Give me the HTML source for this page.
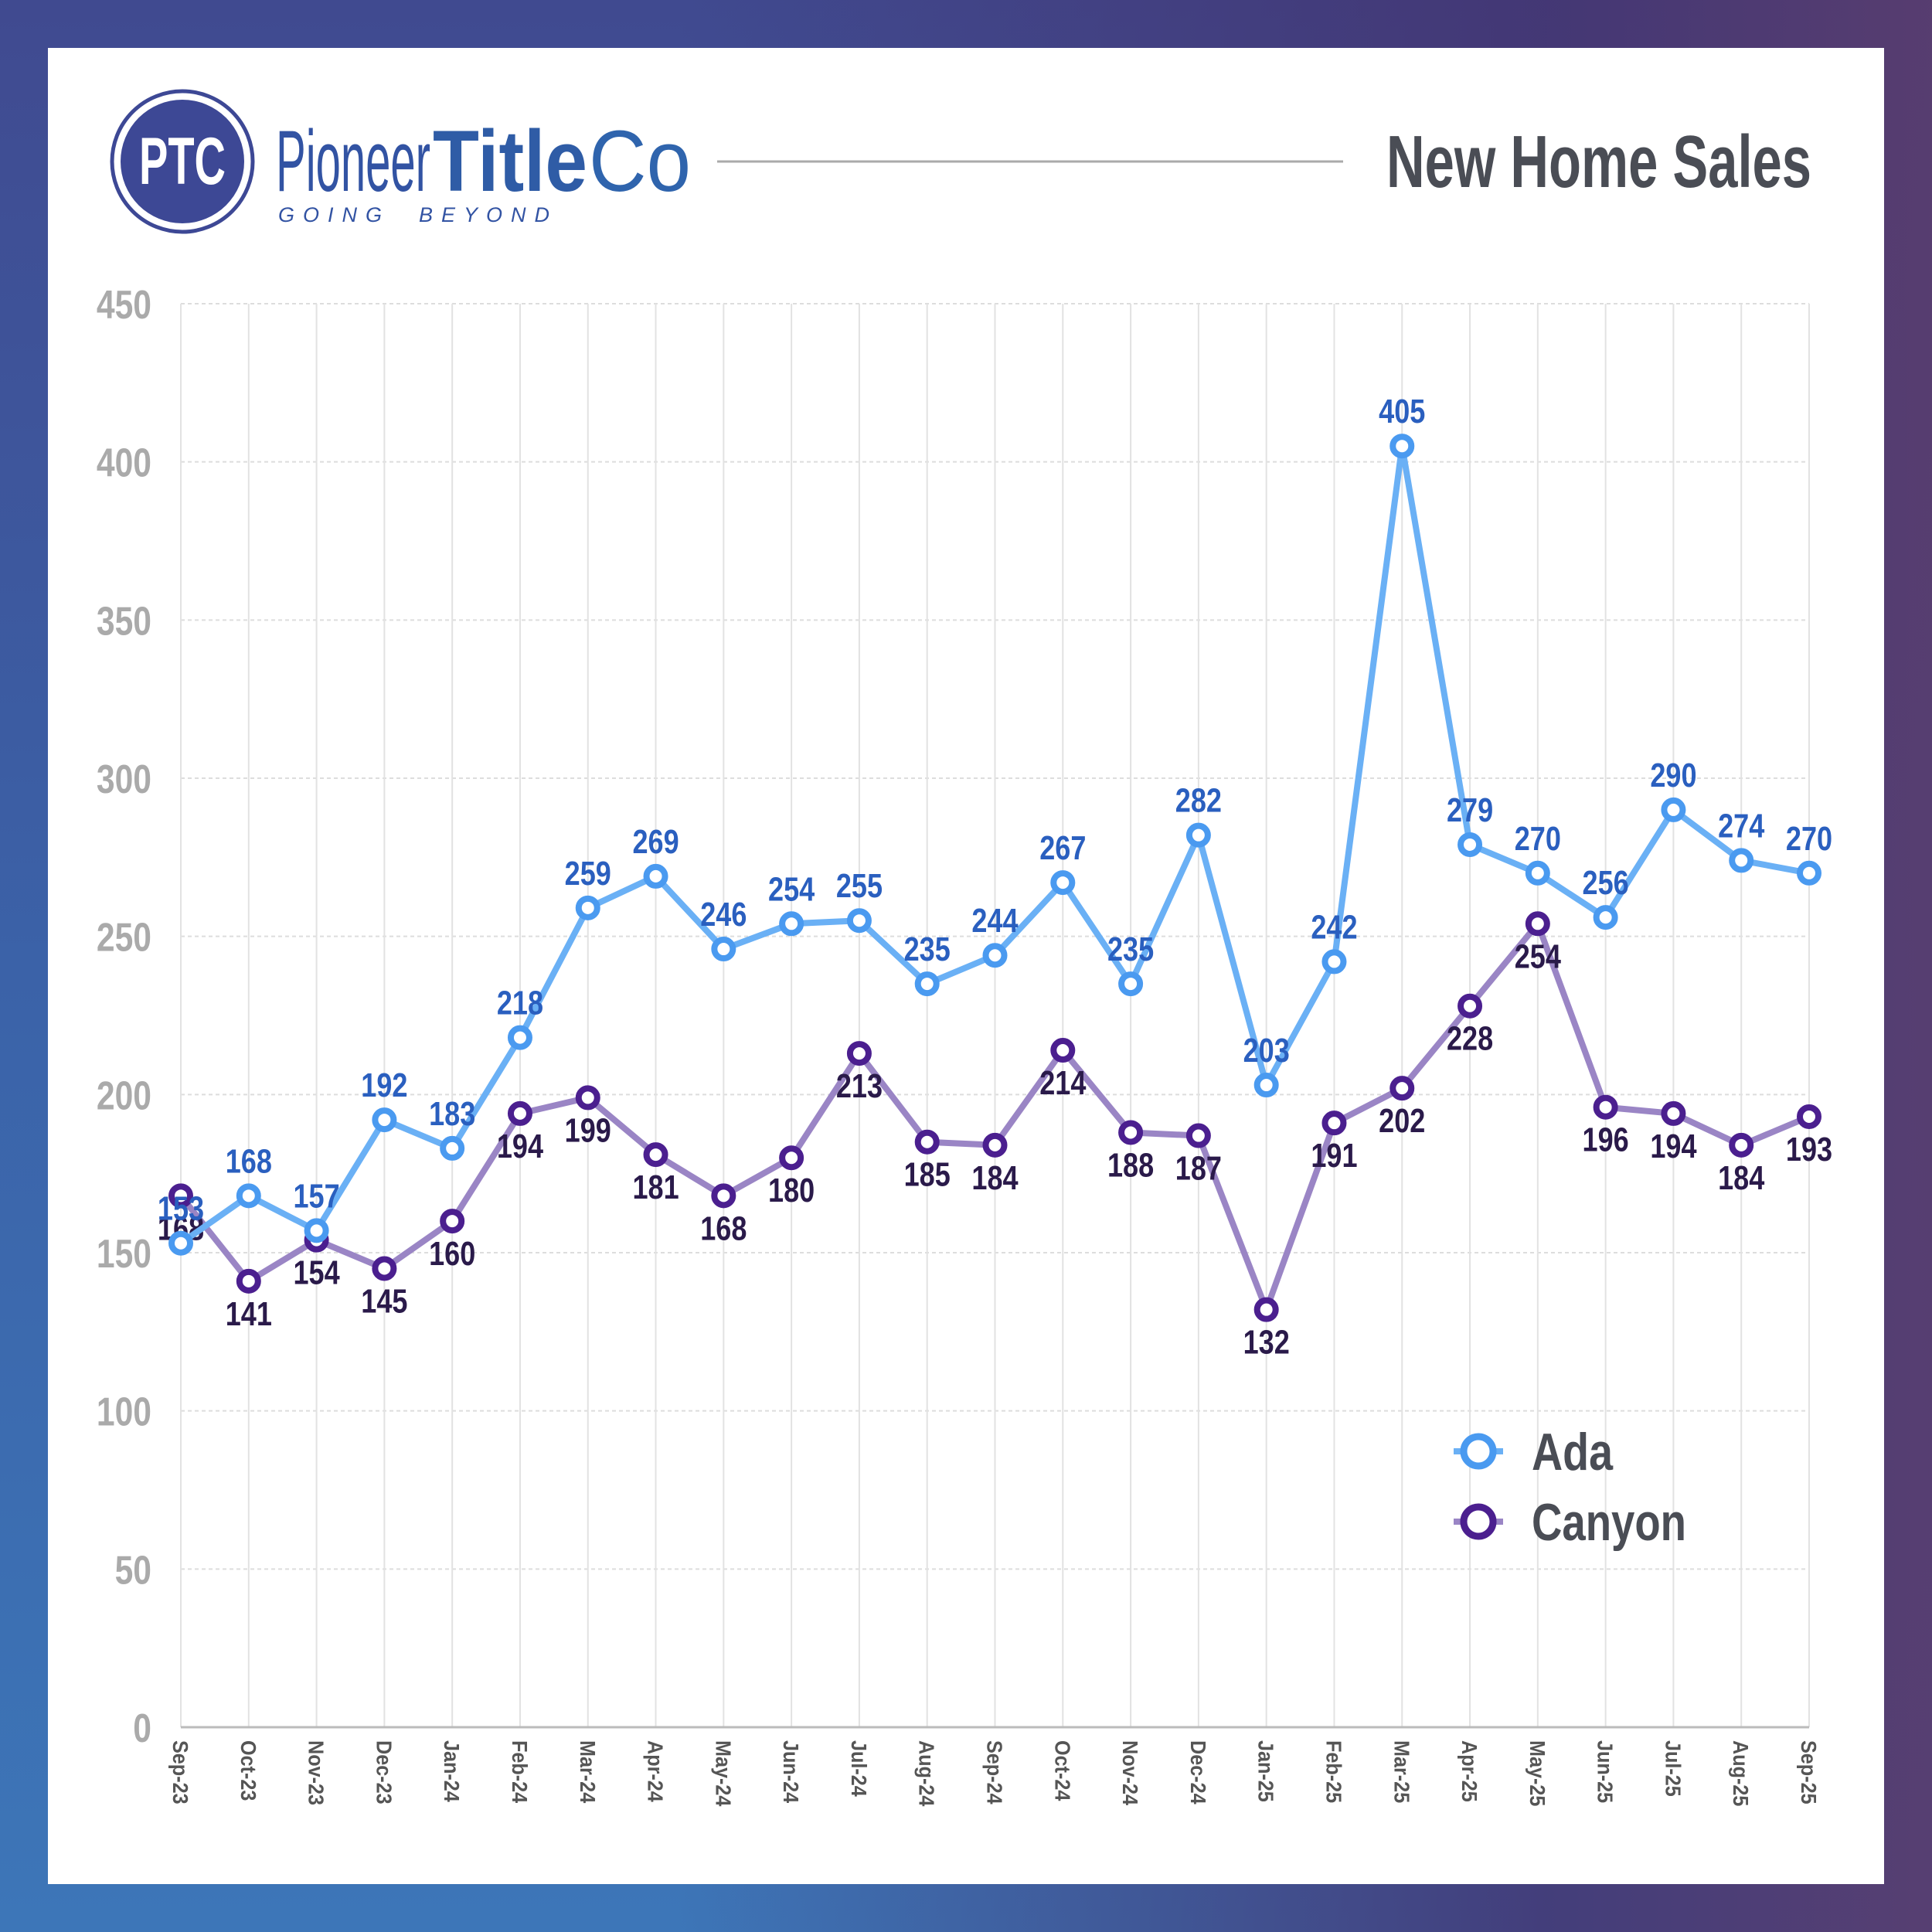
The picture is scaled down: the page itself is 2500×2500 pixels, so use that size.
<!DOCTYPE html>
<html><head><meta charset="utf-8"><style>
html,body{margin:0;padding:0}
body{width:2500px;height:2500px;overflow:hidden;background:linear-gradient(to right,rgba(0,0,0,0) 35%,rgba(68,52,112,0.85) 80%,rgba(88,60,110,0.95) 100%),linear-gradient(to bottom,#404a90 0%,#3b62a8 50%,#3d76b8 100%);position:relative}
#panel{position:absolute;left:62px;top:62px;width:2376px;height:2376px;background:#fff}
svg{position:absolute;left:0;top:0}
text{font-family:"Liberation Sans Narrow","Liberation Sans",sans-serif;font-weight:bold}
</style></head><body>
<div id="panel"></div>
<svg id="s" width="2500" height="2500" xmlns="http://www.w3.org/2000/svg">
<circle cx="236" cy="209" r="91" fill="none" stroke="#3d4895" stroke-width="5"/>
<circle cx="236" cy="209" r="80" fill="#3d4895"/>
<text x="236" y="238" text-anchor="middle" font-size="86" fill="#fff" textLength="112" lengthAdjust="spacingAndGlyphs">PTC</text>
<text x="357" y="247" font-size="112" fill="#3253a3" style="font-weight:normal" textLength="200" lengthAdjust="spacingAndGlyphs">Pioneer</text>
<text x="560" y="247" font-size="112" fill="#2f5ca6" textLength="200" lengthAdjust="spacingAndGlyphs">Title</text>
<text x="762" y="247" font-size="112" fill="#2f64ad" style="font-weight:normal" textLength="132" lengthAdjust="spacingAndGlyphs">Co</text>
<text x="360" y="287" font-size="27" fill="#3253a3" font-style="italic" style="font-weight:normal;letter-spacing:11px;white-space:pre">GOING  BEYOND</text>
<line x1="928" y1="209" x2="1738" y2="209" stroke="#aaa" stroke-width="3"/>
<text x="2344" y="242" text-anchor="end" font-size="96" fill="#4a4d55" textLength="550" lengthAdjust="spacingAndGlyphs">New Home Sales</text>
<g id="g"></g>
<line x1="1881" y1="1878" x2="1945" y2="1878" stroke="#6ab0f5" stroke-width="8"/>
<circle cx="1913" cy="1878" r="19" fill="#fff" stroke="#4a9af0" stroke-width="9"/>
<text x="1982" y="1902" font-size="68" fill="#4a4d55" textLength="105" lengthAdjust="spacingAndGlyphs">Ada</text>
<line x1="1881" y1="1969" x2="1945" y2="1969" stroke="#9a85c5" stroke-width="8"/>
<circle cx="1913" cy="1969" r="19" fill="#fff" stroke="#4b1f8f" stroke-width="9"/>
<text x="1982" y="1993" font-size="68" fill="#4a4d55" textLength="200" lengthAdjust="spacingAndGlyphs">Canyon</text>
</svg>
<script>
var ada=[153,168,157,192,183,218,259,269,246,254,255,235,244,267,235,282,203,242,405,279,270,256,290,274,270];
var can=[168,141,154,145,160,194,199,181,168,180,213,185,184,214,188,187,132,191,202,228,254,196,194,184,193];
var mon=["Sep","Oct","Nov","Dec","Jan","Feb","Mar","Apr","May","Jun","Jul","Aug","Sep","Oct","Nov","Dec","Jan","Feb","Mar","Apr","May","Jun","Jul","Aug","Sep"];
var X=function(i){return 234+i*(2341-234)/24},Y=function(v){return 2235-v*(2235-393)/450};
var h="";
for(var k=0;k<=9;k++){var y=Y(k*50);
 if(k>0)h+='<line x1="234" y1="'+y+'" x2="2341" y2="'+y+'" stroke="#ddd" stroke-width="2" stroke-dasharray="5,4"/>';
 h+='<text transform="translate(196,'+(y+19)+') scale(0.82,1)" text-anchor="end" font-size="52" fill="#aaa">'+(k*50)+'</text>';}
for(var i=0;i<25;i++){var x=X(i);
 h+='<line x1="'+x+'" y1="393" x2="'+x+'" y2="2235" stroke="#e2e2e2" stroke-width="2"/>';
 var yr=i<4?23:(i<16?24:25);
 h+='<text transform="translate('+(x-10)+',2252) rotate(90) scale(0.9,1)" font-size="28" fill="#555">'+mon[i]+'-'+yr+'</text>';}
h+='<line x1="234" y1="2235" x2="2341" y2="2235" stroke="#bbb" stroke-width="3"/>';
function ser(d,lc,mc,tc,up){var p=d.map(function(v,i){return X(i)+','+Y(v)}).join(' ');
 var s='<polyline points="'+p+'" fill="none" stroke="'+lc+'" stroke-width="8" stroke-linejoin="round"/>';
 d.forEach(function(v,i){s+='<circle cx="'+X(i)+'" cy="'+Y(v)+'" r="12" fill="#fff" stroke="'+mc+'" stroke-width="8"/>';});
 d.forEach(function(v,i){s+='<text transform="translate('+X(i)+','+(Y(v)+(up?-30:57))+') scale(0.82,1)" text-anchor="middle" font-size="44" fill="'+tc+'">'+v+'</text>';});
 return s;}
h+=ser(can,"#9a85c5","#4b1f8f","#2a1a4a",false);
h+=ser(ada,"#6ab0f5","#4a9af0","#2a5fbf",true);
document.getElementById("g").innerHTML=h;
</script>
</body></html>
